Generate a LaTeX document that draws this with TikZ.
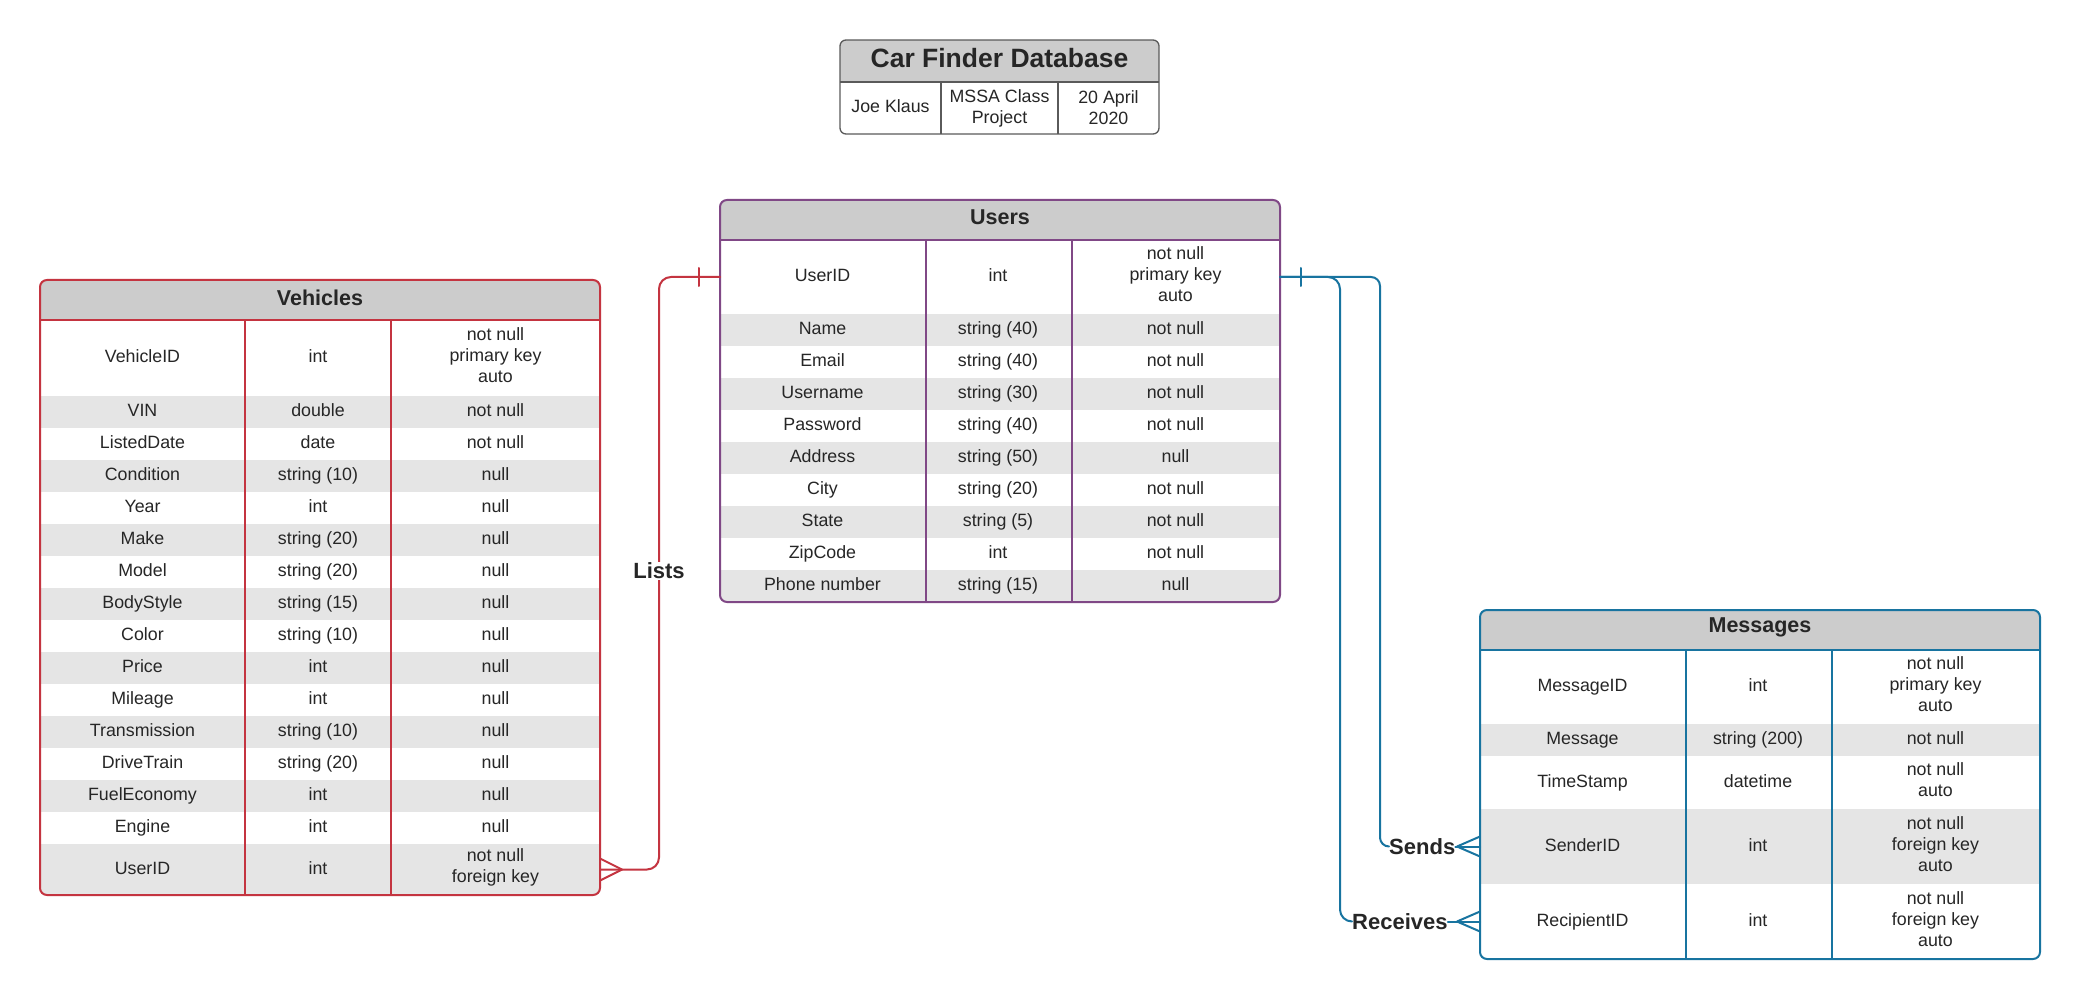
\documentclass[tikz,border=0pt]{standalone}
\usepackage{fontspec}
\setmainfont{Liberation Sans}
\usetikzlibrary{calc}
\definecolor{vred}{RGB}{196,52,64}
\definecolor{upurple}{RGB}{128,72,134}
\definecolor{mblue}{RGB}{24,116,160}
\definecolor{hdrgray}{RGB}{204,204,204}
\definecolor{stripe}{RGB}{229,229,229}
\definecolor{txt}{RGB}{38,38,38}
\definecolor{framegray}{RGB}{90,90,90}
\tikzset{
  rowbg/.style={draw=none, inner sep=0, outer sep=0, minimum width=560},
  celltext/.style={text=txt, font=\fontsize{17.8}{21}\selectfont, align=center, inner sep=0, text height=13, text depth=4},
  cellmulti/.style={text=txt, font=\fontsize{17.8}{21}\selectfont, align=center, inner sep=0, yshift=2.5},
  hdrtext/.style={text=txt, font=\fontsize{21.5}{26}\selectfont\bfseries, inner sep=0},
  titletext/.style={text=txt, font=\fontsize{26.5}{30}\selectfont\bfseries, inner sep=0},
  conlabel/.style={text=txt, font=\fontsize{22}{26}\selectfont\bfseries, inner sep=0},
  tableline/.style={line width=2},
  conn/.style={line width=2, line cap=round, line join=round},
}
% #1 name, #2 left, #3 top, #4 height, #5 fill, #6-#8 texts, #9 style of third cell
\newcommand{\erow}[9]{%
  \node[rowbg, fill=#5, minimum height=#4] (#1) at ({#2+280},{#3+#4/2}) {};
  \node[celltext] (#1a) at ({#2+102.5},{#3+#4/2}) {#6};
  \node[celltext] (#1b) at ({#2+278},{#3+#4/2}) {#7};
  \node[#9] (#1c) at ({#2+455.5},{#3+#4/2}) {#8};
}
\begin{document}
\begin{tikzpicture}[x=1pt,y=-1pt]
\fill[white] (0,0) rectangle (2080,1000);
\useasboundingbox (0,0) rectangle (2080,1000);

% ---------- Title box ----------
\begin{scope}
  \clip[rounded corners=6] (840,40) rectangle (1159,134);
  \fill[hdrgray] (840,40) rectangle (1159,82);
\end{scope}
\node[titletext] (title) at (999.5,58.5) {Car Finder Database};
\node[celltext] (t1) at (890.5,108) {Joe Klaus};
\node[cellmulti, yshift=-2.5] (t2) at (999.5,108) {MSSA Class\\Project};
\node[cellmulti, yshift=-2.5] (t3) at (1108.5,108) {20 April\\2020};
\draw[framegray, line width=1.3] (840,82) -- (1159,82) (941,82) -- (941,134) (1058,82) -- (1058,134);
\draw[framegray, line width=1.3, rounded corners=6] (840,40) rectangle (1159,134);

% ---------- Vehicles ----------
\begin{scope}
  \clip[rounded corners=7] (40,280) rectangle (600,895);
  \fill[hdrgray] (40,280) rectangle (600,320);
  \erow{v1}{40}{320}{76}{white}{VehicleID}{int}{not null\\primary key\\auto}{cellmulti}
  \erow{v2}{40}{396}{32}{stripe}{VIN}{double}{not null}{celltext}
  \erow{v3}{40}{428}{32}{white}{ListedDate}{date}{not null}{celltext}
  \erow{v4}{40}{460}{32}{stripe}{Condition}{string (10)}{null}{celltext}
  \erow{v5}{40}{492}{32}{white}{Year}{int}{null}{celltext}
  \erow{v6}{40}{524}{32}{stripe}{Make}{string (20)}{null}{celltext}
  \erow{v7}{40}{556}{32}{white}{Model}{string (20)}{null}{celltext}
  \erow{v8}{40}{588}{32}{stripe}{BodyStyle}{string (15)}{null}{celltext}
  \erow{v9}{40}{620}{32}{white}{Color}{string (10)}{null}{celltext}
  \erow{v10}{40}{652}{32}{stripe}{Price}{int}{null}{celltext}
  \erow{v11}{40}{684}{32}{white}{Mileage}{int}{null}{celltext}
  \erow{v12}{40}{716}{32}{stripe}{Transmission}{string (10)}{null}{celltext}
  \erow{v13}{40}{748}{32}{white}{DriveTrain}{string (20)}{null}{celltext}
  \erow{v14}{40}{780}{32}{stripe}{FuelEconomy}{int}{null}{celltext}
  \erow{v15}{40}{812}{32}{white}{Engine}{int}{null}{celltext}
  \erow{v16}{40}{844}{51}{stripe}{UserID}{int}{not null\\foreign key}{cellmulti}
\end{scope}
\node[hdrtext] (vtitle) at (320,297.5) {Vehicles};
\draw[vred, tableline] (40,320) -- (600,320) (245,320) -- (245,895) (391,320) -- (391,895);
\draw[vred, tableline, rounded corners=7] (40,280) rectangle (600,895);

% ---------- Users ----------
\begin{scope}
  \clip[rounded corners=7] (720,200) rectangle (1280,602);
  \fill[hdrgray] (720,200) rectangle (1280,240);
  \erow{u1}{720}{240}{74}{white}{UserID}{int}{not null\\primary key\\auto}{cellmulti}
  \erow{u2}{720}{314}{32}{stripe}{Name}{string (40)}{not null}{celltext}
  \erow{u3}{720}{346}{32}{white}{Email}{string (40)}{not null}{celltext}
  \erow{u4}{720}{378}{32}{stripe}{Username}{string (30)}{not null}{celltext}
  \erow{u5}{720}{410}{32}{white}{Password}{string (40)}{not null}{celltext}
  \erow{u6}{720}{442}{32}{stripe}{Address}{string (50)}{null}{celltext}
  \erow{u7}{720}{474}{32}{white}{City}{string (20)}{not null}{celltext}
  \erow{u8}{720}{506}{32}{stripe}{State}{string (5)}{not null}{celltext}
  \erow{u9}{720}{538}{32}{white}{ZipCode}{int}{not null}{celltext}
  \erow{u10}{720}{570}{32}{stripe}{Phone number}{string (15)}{null}{celltext}
\end{scope}
\node[hdrtext] (utitle) at (1000,217) {Users};
\draw[upurple, tableline] (720,240) -- (1280,240) (926,240) -- (926,602) (1072,240) -- (1072,602);
\draw[upurple, tableline, rounded corners=7] (720,200) rectangle (1280,602);

% ---------- Messages ----------
\begin{scope}
  \clip[rounded corners=7] (1480,610) rectangle (2040,959);
  \fill[hdrgray] (1480,610) rectangle (2040,650);
  \erow{m1}{1480}{650}{74}{white}{MessageID}{int}{not null\\primary key\\auto}{cellmulti}
  \erow{m2}{1480}{724}{32}{stripe}{Message}{string (200)}{not null}{celltext}
  \erow{m3}{1480}{756}{53}{white}{TimeStamp}{datetime}{not null\\auto}{cellmulti}
  \erow{m4}{1480}{809}{75}{stripe}{SenderID}{int}{not null\\foreign key\\auto}{cellmulti}
  \erow{m5}{1480}{884}{75}{white}{RecipientID}{int}{not null\\foreign key\\auto}{cellmulti}
\end{scope}
\node[hdrtext] (mtitle) at (1760,627) {Messages};
\draw[mblue, tableline] (1480,650) -- (2040,650) (1686,650) -- (1686,959) (1832,650) -- (1832,959);
\draw[mblue, tableline, rounded corners=7] (1480,610) rectangle (2040,959);

% ---------- Lists (Vehicles -> Users) ----------
\draw[vred, conn, rounded corners=12] (v16.east) -- ++(59,0) |- (u1.west);
\draw[vred, conn] ($(v16.east)+(22,0)$) -- ($(v16.east)+(0,-11)$)
                  ($(v16.east)+(22,0)$) -- ($(v16.east)+(0,11)$);
\draw[vred, conn] ($(u1.west)+(-21,-9)$) -- ($(u1.west)+(-21,9)$);
\node[conlabel, fill=white, inner sep=1] (lists) at (659,571) {Lists};

% ---------- Sends / Receives (Users -> Messages) ----------
\node[conlabel, anchor=west] (sends) at (1389,846.5) {Sends};
\node[conlabel, anchor=west] (recv) at (1352,921.5) {Receives};
\draw[mblue, conn, rounded corners=9] (u1.east) -| ($(sends.west)+(-9,0)$) -- (sends.west);
\draw[mblue, conn, rounded corners=12] (u1.east) -| ($(recv.west)+(-12,0)$) -- (recv.west);
\draw[mblue, conn] ($(u1.east)+(21,-9)$) -- ($(u1.east)+(21,9)$);
\draw[mblue, conn] (sends.east) -- (m4.west);
\draw[mblue, conn] ($(m4.west)+(-23,0)$) -- ($(m4.west)+(0,-10)$)
                   ($(m4.west)+(-23,0)$) -- ($(m4.west)+(0,10)$);
\draw[mblue, conn] (recv.east) -- (m5.west);
\draw[mblue, conn] ($(m5.west)+(-23,0)$) -- ($(m5.west)+(0,-10)$)
                   ($(m5.west)+(-23,0)$) -- ($(m5.west)+(0,10)$);
\end{tikzpicture}
\end{document}
